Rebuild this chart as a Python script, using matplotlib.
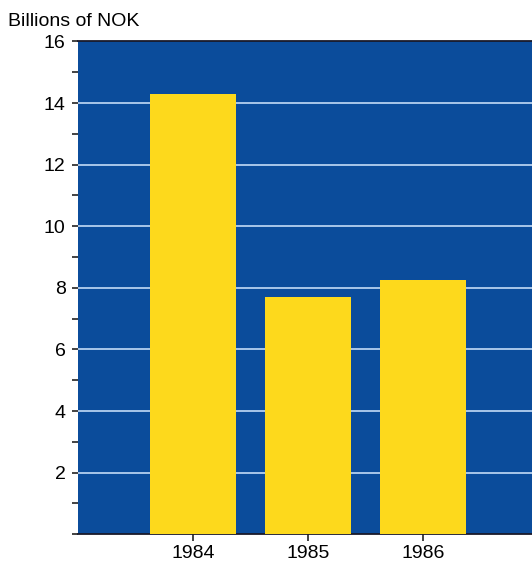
import matplotlib
matplotlib.use("agg")
import matplotlib.pyplot as plt
from matplotlib.ticker import MultipleLocator

# Billions of NOK per year
years = [1984, 1985, 1986]
values = [14.3, 7.7, 8.25]
year_labels = ["1984", "1985", "1986"]

BLUE = "#0b4c9b"
YELLOW = "#fdd91c"
GRID = "#b5d0f0"

plt.rcParams["font.family"] = ["Liberation Sans", "DejaVu Sans"]

fig = plt.figure(figsize=(5.32, 5.62), dpi=100)
left, bottom, top = 78 / 532, 27.7 / 562, 520.5 / 562
ax = fig.add_axes([left, bottom, 1 - left, top - bottom])
ax.set_facecolor(BLUE)

ax.bar(years, values, width=0.75, color=YELLOW, zorder=3)

ax.set_xlim(1983, 1983 + 454 / 115)
ax.set_ylim(0, 16)
ax.yaxis.set_minor_locator(MultipleLocator(1))
ax.set_yticks(range(2, 17, 2))
ax.set_xticks(years)
ax.set_xticklabels(year_labels)

ax.grid(axis="y", which="major", color=GRID, linewidth=1.3, zorder=1)
ax.set_axisbelow(True)

for s in ["left", "right"]:
    ax.spines[s].set_visible(False)
for s in ["top", "bottom"]:
    ax.spines[s].set_color("#1a1a2a")
    ax.spines[s].set_linewidth(1.3)

ax.tick_params(axis="y", which="both", direction="out", length=4, width=1.2,
               color="#222222", labelsize=14, pad=5)
ax.tick_params(axis="x", direction="out", length=5, width=1.2,
               color="#222222", labelsize=14, pad=3)

fig.text(8 / 532, 1 - 21 / 562, "Billions of NOK", fontsize=14, va="center", ha="left")

plt.savefig("out.png", dpi=100)
